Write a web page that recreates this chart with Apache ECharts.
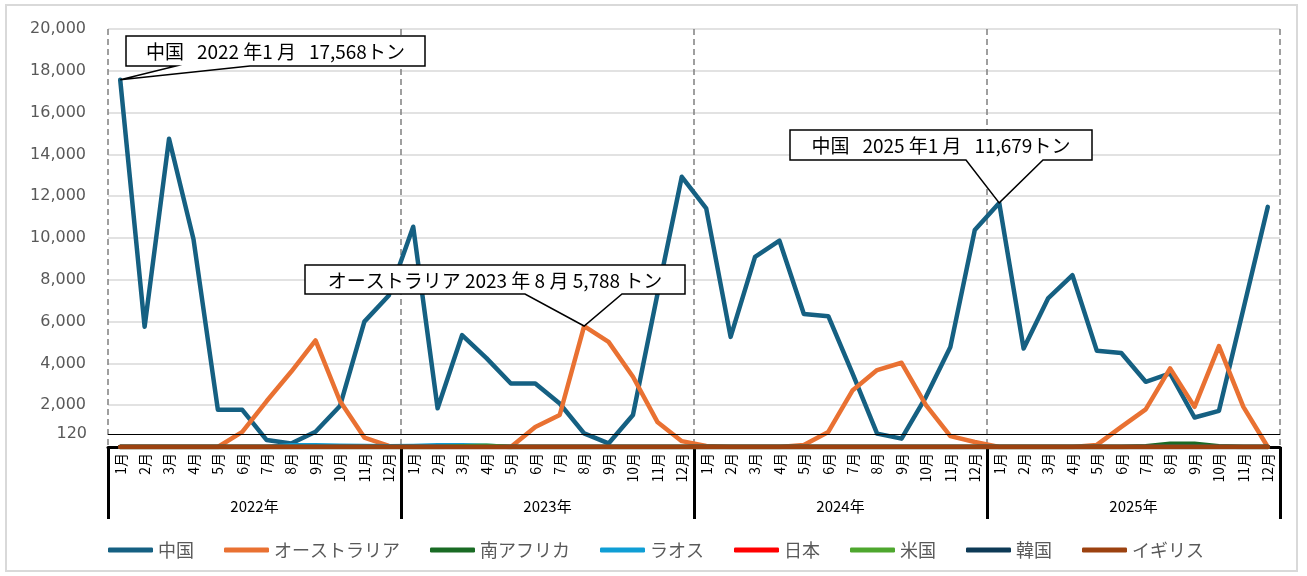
<!DOCTYPE html>
<html>
<head>
<meta charset="utf-8">
<script src="https://cdn.jsdelivr.net/npm/echarts@6/dist/echarts.min.js"></script>
<style>
  html, body { margin: 0; padding: 0; background: #fff; }
  #main { width: 1307px; height: 576px; }
</style>
</head>
<body>
<div id="main"></div>
<script>
// 年・月のカテゴリ
var years = ['2022年', '2023年', '2024年', '2025年'];
var monthNames = ['1月', '2月', '3月', '4月', '5月', '6月', '7月', '8月', '9月', '10月', '11月', '12月'];
var months = [];
years.forEach(function () { months = months.concat(monthNames); });

// 国別（トン）
var china = [
  17568, 5750, 14750, 9950, 1780, 1780, 330, 170, 730, 1960, 6000, 7250,
  10540, 1850, 5350, 4250, 3040, 3040, 2080, 650, 170, 1530, 7300, 12930,
  11420, 5270, 9100, 9870, 6360, 6260, 3500, 640, 400, 2400, 4790, 10380,
  11679, 4710, 7110, 8220, 4600, 4500, 3120, 3520, 1410, 1730, 6600, 11490
];
var australia = [
  0, 0, 0, 0, 0, 720, 2200, 3600, 5100, 2200, 450, 50,
  0, 0, 0, 0, 0, 960, 1530, 5788, 5030, 3360, 1200, 280,
  50, 0, 0, 0, 100, 720, 2720, 3680, 4030, 2000, 520, 240,
  0, 0, 0, 0, 100, 960, 1800, 3760, 1920, 4830, 1920, 0
];
var southAfrica = [
  0, 0, 0, 0, 0, 0, 0, 0, 0, 0, 0, 0,
  0, 0, 0, 0, 0, 0, 0, 0, 0, 0, 0, 0,
  0, 0, 0, 0, 0, 0, 0, 0, 0, 0, 0, 0,
  0, 0, 0, 0, 0, 0, 40, 150, 150, 40, 0, 0
];
var laos = [
  0, 0, 0, 0, 0, 0, 0, 80, 80, 60, 50, 40,
  50, 80, 80, 60, 0, 0, 0, 0, 0, 0, 0, 0,
  0, 0, 0, 0, 0, 0, 0, 0, 0, 0, 0, 0,
  0, 0, 0, 0, 0, 0, 0, 0, 0, 0, 0, 0
];
var japan = [
  0, 0, 0, 0, 0, 0, 0, 0, 0, 0, 0, 0,
  0, 0, 0, 0, 0, 0, 0, 0, 0, 0, 0, 0,
  0, 0, 0, 0, 0, 0, 0, 0, 0, 0, 0, 0,
  0, 0, 0, 0, 0, 0, 0, 0, 0, 0, 0, 0
];
var usa = [
  0, 0, 0, 0, 0, 0, 0, 0, 0, 0, 0, 0,
  0, 0, 40, 60, 0, 0, 0, 0, 0, 0, 0, 0,
  0, 0, 0, 0, 0, 0, 0, 0, 0, 0, 0, 0,
  0, 0, 0, 0, 0, 0, 0, 0, 0, 0, 0, 0
];
var korea = [
  0, 0, 0, 0, 0, 0, 0, 0, 0, 0, 0, 0,
  0, 0, 0, 0, 0, 0, 0, 0, 0, 0, 0, 0,
  0, 0, 0, 0, 0, 0, 0, 0, 0, 0, 0, 0,
  0, 0, 0, 0, 0, 0, 0, 0, 0, 0, 0, 0
];
var uk = [
  0, 0, 0, 0, 0, 0, 0, 0, 0, 0, 0, 0,
  0, 0, 0, 0, 0, 0, 0, 0, 0, 0, 0, 0,
  0, 0, 0, 0, 0, 0, 0, 0, 0, 0, 0, 0,
  0, 0, 0, 0, 0, 0, 0, 0, 0, 0, 0, 0
];

// 基準線
var refValue = 610;
var refLabel = '120';

// 吹き出し（series, index, text）
var callouts = [
  { series: 0, index: 0, text: '中国   2022 年1 月   17,568トン', box: [126, 36, 299, 30], wedge: [176, 250] },
  { series: 1, index: 19, text: 'オーストラリア 2023 年 8 月 5,788 トン', box: [305, 265, 380, 29], wedge: [525, 622] },
  { series: 0, index: 36, text: '中国   2025 年1 月   11,679トン', box: [790, 130, 302, 30], wedge: [966, 1043] }
];

var names = ['中国', 'オーストラリア', '南アフリカ', 'ラオス', '日本', '米国', '韓国', 'イギリス'];
var colors = ['#156082', '#E97132', '#196B24', '#0F9ED5', '#FF0000', '#4EA72E', '#0E3A56', '#9C4210'];
var values = [china, australia, southAfrica, laos, japan, usa, korea, uk];

var FONT = '"Noto Sans CJK JP", "Noto Sans", sans-serif';

var myChart = echarts.init(document.getElementById('main'));

var series = names.map(function (n, i) {
  var s = {
    name: n,
    type: 'line',
    data: values[i],
    showSymbol: false,
    symbol: 'none',
    lineStyle: { width: 4.5, color: colors[i], cap: 'round', join: 'round' },
    itemStyle: { color: colors[i] },
    emphasis: { disabled: true },
    silent: true
  };
  if (i === 0) {
    s.markLine = {
      silent: true,
      symbol: 'none',
      lineStyle: { color: '#000', width: 1, type: 'solid' },
      label: {
        position: 'start', formatter: refLabel, distance: 21,
        color: '#595959', fontSize: 16, fontFamily: 'DejaVu Sans'
      },
      data: [{ yAxis: refValue }]
    };
  }
  return s;
});

option = {
  backgroundColor: '#fff',
  animation: false,
  color: colors,
  grid: { left: 108, right: 27, top: 29, bottom: 129 },
  legend: {
    data: names,
    left: 103,
    top: 536,
    icon: 'roundRect',
    itemWidth: 45,
    itemHeight: 5,
    itemGap: 30,
    textStyle: { fontSize: 18, color: '#595959', fontFamily: FONT }
  },
  xAxis: [
    {
      type: 'category',
      data: months,
      position: 'bottom',
      boundaryGap: true,
      axisLine: { show: true, lineStyle: { color: '#000', width: 3 } },
      axisTick: { show: false },
      axisLabel: {
        interval: 0, rotate: 90, margin: 6,
        fontSize: 14, color: '#000', fontFamily: FONT
      },
      splitLine: { show: false }
    },
    {
      type: 'category',
      data: years,
      position: 'bottom',
      boundaryGap: true,
      axisLine: { show: false },
      axisTick: { show: true, length: 72, lineStyle: { color: '#000', width: 3 } },
      axisLabel: { margin: 52, fontSize: 15, color: '#000', fontFamily: FONT },
      splitLine: {
        show: true, showMinLine: true, showMaxLine: true,
        lineStyle: { color: '#808080', width: 1.5, type: [6, 4] }
      }
    }
  ],
  yAxis: {
    type: 'value',
    min: 0,
    max: 20000,
    interval: 2000,
    axisLine: { show: false },
    axisTick: { show: false },
    axisLabel: {
      margin: 22, fontSize: 16, color: '#595959', fontFamily: 'DejaVu Sans',
      formatter: function (v) { return v === 0 ? '' : v.toLocaleString('en-US'); }
    },
    splitLine: { lineStyle: { color: '#d9d9d9', width: 1.5 } }
  },
  series: series
};

myChart.setOption(option, true);

// 吹き出しを描く（先端はデータ点から）
var graphics = [{
  type: 'rect', silent: true, z: 0,
  shape: { x: 6, y: 5, width: 1291, height: 566 },
  style: { fill: 'none', stroke: '#d9d9d9', lineWidth: 2 }
}];
callouts.forEach(function (c) {
  var p = myChart.convertToPixel({ xAxisIndex: 0, yAxisIndex: 0 }, [c.index, values[c.series][c.index]]);
  var b = c.box;
  var bottom = b[1] + b[3];
  graphics.push({
    type: 'polygon', silent: true, z: 100,
    shape: {
      points: [
        [b[0], b[1]], [b[0] + b[2], b[1]], [b[0] + b[2], bottom],
        [c.wedge[1], bottom], [p[0], p[1]], [c.wedge[0], bottom], [b[0], bottom]
      ]
    },
    style: { fill: '#fff', stroke: '#000', lineWidth: 1.5 }
  });
  graphics.push({
    type: 'text', silent: true, z: 101,
    style: {
      text: c.text, x: b[0] + b[2] / 2, y: b[1] + b[3] / 2 + 1,
      align: 'center', verticalAlign: 'middle',
      fill: '#000', font: '19px ' + FONT
    }
  });
});
myChart.setOption({ graphic: graphics });

window.addEventListener('resize', function () {
  myChart.resize();
});
</script>
</body>
</html>
